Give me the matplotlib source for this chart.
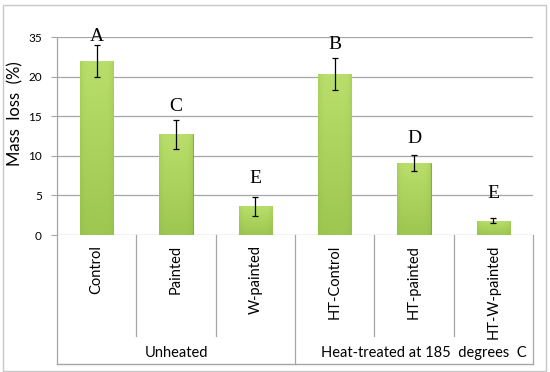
import numpy as np
import matplotlib
matplotlib.use('Agg')
from matplotlib import pyplot as plt
from matplotlib.patches import Rectangle
import matplotlib.transforms as mtransforms

categories = ['Control', 'Painted', 'W-painted', 'HT-Control', 'HT-painted', 'HT-W-painted']
mass_loss = [22.0, 12.7, 3.6, 20.3, 9.1, 1.8]
errors = [2.0, 1.8, 1.2, 2.0, 1.0, 0.3]
letters = ['A', 'C', 'E', 'B', 'D', 'E']
letter_y = [24.0, 15.2, 6.1, 23.0, 11.1, 4.2]
groups = ['Unheated', 'Heat-treated at 185  degrees  C']
group_sizes = [3, 3]
yticks = [0, 5, 10, 15, 20, 25]
ytick_labels = ['0', '5', '10', '15', '20', '35']

grid_c = '#a6a6a6'
sans = ['Lato', 'DejaVu Sans']

fig = plt.figure(figsize=(5.5, 3.72), dpi=100)
fig.patches.append(Rectangle((3 / 550, 1 / 372), 543 / 550, 366 / 372, transform=fig.transFigure,
                             fill=False, edgecolor='#c8c8c8', lw=1.0))
ax = fig.add_axes([57 / 550, 1 - 235 / 372, 476 / 550, 198 / 372])

x = np.arange(len(categories))
bars = ax.bar(x, mass_loss, width=0.42, color='#9dc452', edgecolor='#7f9e3c', lw=0.6, zorder=3)

# vertical + edge shading gradient inside every bar
vy = np.linspace(0, 1, 64)[:, None]
hx = np.linspace(-1, 1, 32)[None, :]
shade = (0.5 + 0.5 * vy) * (1 - 0.25 * np.abs(hx) ** 6)
top = np.array([0.73, 0.87, 0.42])
bot = np.array([0.50, 0.69, 0.21])
img = bot + (top - bot) * shade[..., None]
for b in bars:
    im = ax.imshow(img, extent=[b.get_x(), b.get_x() + b.get_width(), 0, b.get_height()],
                   origin='lower', aspect='auto', zorder=3.5, interpolation='bilinear')
    im.set_clip_path(b)

ax.errorbar(x, mass_loss, yerr=errors, fmt='none', ecolor='black', elinewidth=0.9,
            capsize=2.2, capthick=0.9, zorder=5)

for xi, t, ty in zip(x, letters, letter_y):
    ax.text(xi, ty, t, ha='center', va='bottom', fontsize=14,
            family='Liberation Serif', clip_on=False, zorder=6)

ax.set_xlim(-0.5, len(categories) - 0.5)
ax.set_ylim(0, 25)
ax.set_yticks(yticks)
ax.set_yticklabels(ytick_labels, family=sans, fontsize=8.5)
ax.set_xticks([])
ax.yaxis.grid(True, color=grid_c, lw=0.9, zorder=0)
ax.set_axisbelow(True)
ax.tick_params(axis='y', length=4, color=grid_c, pad=7)
for s in ['top', 'right', 'bottom']:
    ax.spines[s].set_visible(False)
ax.spines['left'].set_color(grid_c)
ax.spines['left'].set_linewidth(0.9)
ax.set_ylabel('Mass  loss  (%)', family=sans, fontsize=12)
ax.yaxis.set_label_coords(-34 / 476, (235 - 114) / 198)

# category table under the axis
trans = mtransforms.blended_transform_factory(ax.transData, ax.transAxes)
tab_bottom = -(364 - 235) / 198
sep_bottom = -(336 - 235) / 198
for xi, c in zip(x, categories):
    ax.text(xi, -10 / 198, c, rotation=90, ha='center', va='top', transform=trans,
            family=sans, fontsize=10.5)
edges = [-0.5]
for n in group_sizes:
    edges.append(edges[-1] + n)
for i in range(1, len(categories)):
    e = i - 0.5
    yb = tab_bottom if e in edges else sep_bottom
    ax.plot([e, e], [0, yb], transform=trans, color=grid_c, lw=0.9, clip_on=False)
for e in [edges[0], edges[-1]]:
    ax.plot([e, e], [0, tab_bottom], transform=trans, color=grid_c, lw=0.9, clip_on=False)
ax.plot([edges[0], edges[-1]], [tab_bottom, tab_bottom], transform=trans, color=grid_c,
        lw=1.0, clip_on=False)
group_shift = [0, 0.12]
for g, a, b, dx in zip(groups, edges[:-1], edges[1:], group_shift):
    ax.text((a + b) / 2 + dx, -(353 - 235) / 198, g, ha='center', va='center',
            transform=trans, family=sans, fontsize=10.5)

fig.savefig('out.png', dpi=100)
